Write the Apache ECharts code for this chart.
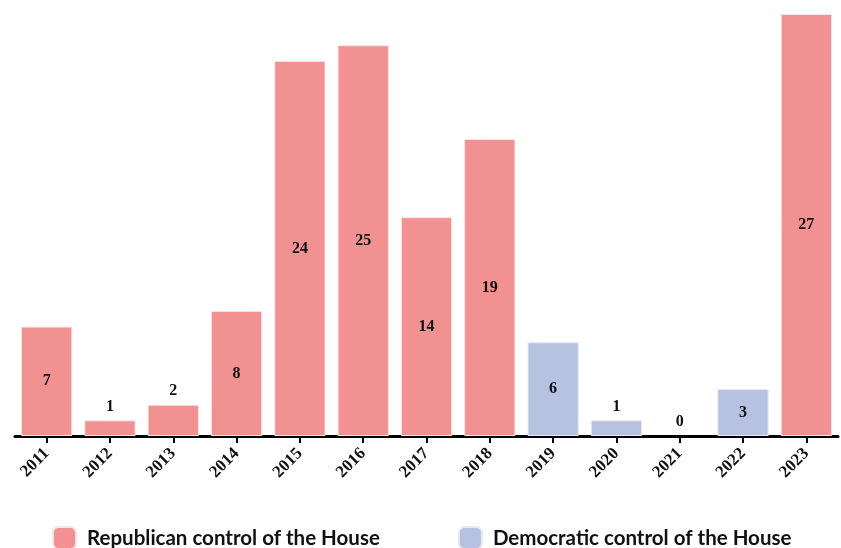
<!DOCTYPE html>
<html>
<head>
<meta charset="utf-8">
<script src="https://cdn.jsdelivr.net/npm/echarts@6/dist/echarts.min.js"></script>
<style>
  html, body { margin: 0; padding: 0; background: #fff; }
  #chart { width: 841px; height: 548px; }
</style>
</head>
<body>
<div id="chart"></div>
<script>
// Years and counts by party in control of the House
const years = ['2011','2012','2013','2014','2015','2016','2017','2018','2019','2020','2021','2022','2023'];
const republican = [7, 1, 2, 8, 24, 25, 14, 19, null, null, null, null, 27];
const democratic = [null, null, null, null, null, null, null, null, 6, 1, 0, 3, null];
const seriesNames = ['Republican control of the House', 'Democratic control of the House'];
const colors = ['#f19192', '#b7c2e0'];

// Small values are labelled above the bar, the rest in the middle
function withLabels(values) {
  return values.map(v => {
    if (v === null) return '-';
    return {
      value: v,
      itemStyle: v === 0 ? { borderWidth: 0 } : undefined,
      label: { position: v <= 2 ? 'top' : 'inside', distance: 6 }
    };
  });
}

const chart = echarts.init(document.getElementById('chart'));
chart.setOption({
  animation: false,
  grid: { left: 15, right: 3, top: 14, bottom: 112 },
  legend: {
    bottom: -7,
    left: 47,
    itemWidth: 23,
    itemHeight: 22,
    itemGap: 78,
    textStyle: { fontFamily: 'Lato', fontSize: 20.5, color: '#111', fontWeight: 'bold', padding: [0, 0, 0, 6] },
    data: seriesNames
  },
  xAxis: {
    type: 'category',
    data: years,
    axisLine: { lineStyle: { color: '#000', width: 3 } },
    axisTick: { show: true, alignWithLabel: true, length: 7, lineStyle: { color: '#000', width: 2 } },
    axisLabel: {
      rotate: 45,
      margin: 15,
      fontFamily: 'Liberation Serif',
      fontWeight: 'bold',
      fontSize: 17,
      color: '#111'
    }
  },
  yAxis: {
    type: 'value',
    min: 0,
    max: 27,
    show: false
  },
  series: [
    {
      name: seriesNames[0],
      type: 'bar',
      stack: 'house',
      barCategoryGap: '19%',
      data: withLabels(republican),
      itemStyle: { color: colors[0], borderColor: '#fbe3e3', borderWidth: 1 },
      label: { show: true, fontFamily: 'Liberation Serif', fontWeight: 'bold', fontSize: 16, color: '#111' }
    },
    {
      name: seriesNames[1],
      type: 'bar',
      stack: 'house',
      barCategoryGap: '19%',
      data: withLabels(democratic),
      itemStyle: { color: colors[1], borderColor: '#e6eaf5', borderWidth: 1 },
      label: { show: true, fontFamily: 'Liberation Serif', fontWeight: 'bold', fontSize: 16, color: '#111' }
    }
  ]
});
</script>
</body>
</html>
